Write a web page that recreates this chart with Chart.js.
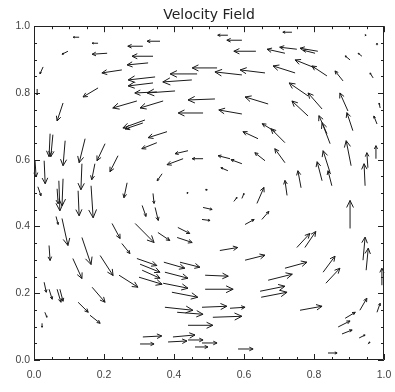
<!DOCTYPE html>
<html>
<head>
<meta charset="utf-8">
<script src="https://cdn.jsdelivr.net/npm/chart.js@4.4.1/dist/chart.umd.min.js"></script>
<style>
  html, body { margin: 0; padding: 0; background: #fff; }
  #wrap { width: 395px; height: 392px; }
</style>
</head>
<body>
<div id="wrap"><canvas id="c" width="395" height="392"></canvas></div>
<script>
// arrow tails (x, y) and components (u, v), data units
const xs = [
  0.129, 0.183, 0.097, 0.209, 0.026, 0.251, 0.183, 0.009, 0.083, 0.294,
  0.317, 0.311, 0.046, 0.054, 0.089, 0.146, 0.203, 0.240, 0.554, 0.594,
  0.634, 0.360, 0.340, 0.311, 0.326, 0.523, 0.466, 0.594, 0.660, 0.451,
  0.346, 0.340, 0.351, 0.403, 0.369, 0.517, 0.669, 0.483, 0.594, 0.380,
  0.351, 0.440, 0.426, 0.483, 0.560, 0.594, 0.554, 0.366, 0.640, 0.660,
  0.737, 0.751, 0.811, 0.803, 0.717, 0.903, 0.937, 0.803, 0.837, 0.746,
  0.883, 0.969, 0.783, 0.823, 0.783, 0.897, 0.911, 0.989, 0.980, 0.689,
  0.717, 0.837, 0.846, 0.717, 0.846, 0.851, 0.823, 0.906, 0.946, 0.954,
  0.977, 0.763, 0.723, 0.637, 0.571, 0.594, 0.903, 0.651, 0.603, 0.483,
  0.480, 0.751, 0.774, 0.940, 0.949, 0.994, 0.826, 0.834, 0.603, 0.717,
  0.669, 0.646, 0.649, 0.760, 0.931, 0.980, 0.889, 0.869, 0.880, 0.929,
  0.840, 0.583, 0.346, 0.411, 0.354, 0.409, 0.531, 0.294, 0.303, 0.309,
  0.300, 0.371, 0.417, 0.374, 0.489, 0.369, 0.489, 0.394, 0.374, 0.409,
  0.480, 0.560, 0.511, 0.440, 0.311, 0.397, 0.383, 0.440, 0.480, 0.460,
  0.303, 0.289, 0.309, 0.223, 0.251, 0.137, 0.189, 0.111, 0.043, 0.080,
  0.063, 0.243, 0.166, 0.126, 0.160, 0.029, 0.043, 0.066, 0.074, 0.031,
  0.023, 0.003, 0.029, 0.011, 0.071, 0.083, 0.066, 0.126, 0.137, 0.163,
  0.174, 0.266, 0.340, 0.489, 0.437, 0.980, 0.946, 0.954
];
const ys = [
  0.967, 0.949, 0.925, 0.919, 0.878, 0.869, 0.815, 0.812, 0.770, 0.776,
  0.719, 0.710, 0.678, 0.675, 0.657, 0.663, 0.648, 0.612, 0.973, 0.958,
  0.925, 0.955, 0.910, 0.940, 0.890, 0.875, 0.857, 0.854, 0.860, 0.839,
  0.848, 0.830, 0.803, 0.806, 0.776, 0.782, 0.767, 0.740, 0.737, 0.684,
  0.651, 0.627, 0.603, 0.603, 0.603, 0.588, 0.567, 0.558, 0.663, 0.597,
  0.982, 0.931, 0.925, 0.919, 0.919, 0.899, 0.910, 0.875, 0.851, 0.860,
  0.836, 0.845, 0.791, 0.752, 0.731, 0.746, 0.687, 0.755, 0.707, 0.684,
  0.651, 0.678, 0.648, 0.591, 0.561, 0.522, 0.537, 0.582, 0.522, 0.576,
  0.603, 0.516, 0.493, 0.469, 0.475, 0.484, 0.394, 0.421, 0.406, 0.457,
  0.421, 0.337, 0.337, 0.299, 0.269, 0.224, 0.263, 0.230, 0.299, 0.275,
  0.239, 0.206, 0.188, 0.149, 0.149, 0.143, 0.125, 0.099, 0.078, 0.066,
  0.021, 0.033, 0.457, 0.397, 0.382, 0.367, 0.328, 0.304, 0.287, 0.269,
  0.248, 0.293, 0.293, 0.263, 0.254, 0.230, 0.212, 0.203, 0.158, 0.143,
  0.158, 0.155, 0.128, 0.104, 0.069, 0.069, 0.054, 0.060, 0.051, 0.039,
  0.048, 0.409, 0.463, 0.409, 0.349, 0.367, 0.313, 0.304, 0.343, 0.424,
  0.430, 0.254, 0.218, 0.173, 0.134, 0.233, 0.212, 0.212, 0.212, 0.143,
  0.110, 0.597, 0.597, 0.519, 0.537, 0.543, 0.513, 0.507, 0.588, 0.522,
  0.588, 0.531, 0.499, 0.510, 0.499, 0.943, 0.973, 0.048
];
const us = [
  -0.017, -0.017, -0.017, -0.043, -0.009, -0.057, -0.043, 0, -0.017, -0.069,
  -0.063, -0.051, -0.003, -0.006, -0.006, -0.017, -0.023, -0.023, -0.029, -0.043,
  -0.063, -0.037, -0.060, -0.043, -0.060, -0.071, -0.077, -0.077, -0.071, -0.083,
  -0.077, -0.071, -0.063, -0.080, -0.066, -0.077, -0.066, -0.071, -0.066, -0.054,
  -0.043, -0.037, -0.046, -0.031, -0.034, -0.031, -0.020, -0.014, -0.043, -0.029,
  -0.026, -0.049, -0.051, -0.034, -0.051, -0.014, -0.011, -0.057, -0.043, -0.063,
  -0.023, -0.009, -0.054, -0.040, -0.046, -0.023, -0.017, -0.003, -0.009, -0.037,
  -0.040, -0.023, -0.023, -0.029, -0.020, -0.011, -0.014, -0.014, -0.003, -0.003,
  0, -0.009, -0.006, 0.020, 0.009, 0.006, 0, 0.020, 0.026, 0.026,
  0.023, 0.037, 0.031, 0.006, 0.006, 0, 0.034, 0.040, 0.057, 0.063,
  0.069, 0.071, 0.074, 0.063, 0.020, 0.009, 0.029, 0.034, 0.029, 0.017,
  0.026, 0.043, 0.009, 0.034, 0.034, 0.043, 0.051, 0.057, 0.057, 0.051,
  0.066, 0.060, 0.057, 0.066, 0.066, 0.071, 0.080, 0.074, 0.080, 0.074,
  0.071, 0.043, 0.083, 0.071, 0.054, 0.063, 0.054, 0.043, 0.043, 0.037,
  0.040, 0.054, 0.011, 0.023, 0.023, 0.026, 0.037, 0.026, 0.003, 0.017,
  0.006, 0.054, 0.037, 0.029, 0.029, 0.006, 0.009, 0.011, 0.009, 0.006,
  0, 0.003, 0.003, 0.009, 0.003, -0.003, 0.003, 0.003, -0.003, 0.006,
  -0.009, -0.009, 0.003, 0.006, 0.003, 0, 0.003, 0.006
];
const vs = [
  0, 0, -0.009, -0.003, -0.021, -0.009, -0.027, -0.018, -0.054, -0.021,
  -0.024, -0.018, -0.069, -0.066, -0.075, -0.072, -0.051, -0.048, 0, 0,
  0, 0, 0, 0, -0.006, 0, 0, 0.009, 0.009, -0.006,
  -0.009, -0.009, -0.003, -0.006, -0.021, -0.003, 0.021, 0, 0.012, -0.018,
  -0.018, -0.009, -0.018, 0, 0.009, 0.012, 0.009, -0.021, 0.021, 0.024,
  0, 0.006, 0.009, 0.009, 0.012, 0.012, 0.009, 0.024, 0.030, 0.021,
  0.030, 0.015, 0.039, 0.048, 0.045, 0.054, 0.054, 0.015, 0.024, 0.024,
  0.042, 0.054, 0.063, 0.042, 0.066, 0.045, 0.057, 0.075, 0.066, 0.045,
  0.039, 0.051, 0.045, 0.048, 0.012, 0.015, 0.084, 0.024, 0.015, -0.006,
  -0.003, 0.042, 0.048, 0.069, 0.066, 0.051, 0.048, 0.045, 0.015, 0.018,
  0.018, 0.015, 0.015, 0.012, 0.036, 0.027, 0.018, 0.018, 0.012, 0.009,
  0, 0, -0.039, -0.018, -0.024, -0.015, 0.009, -0.021, -0.024, -0.024,
  -0.021, -0.018, -0.015, -0.018, -0.003, -0.015, 0, -0.015, -0.009, -0.006,
  0.003, 0.003, 0.003, 0, 0.003, 0.006, 0.003, 0, 0, 0,
  0, -0.057, -0.033, -0.045, -0.030, -0.081, -0.060, -0.060, -0.045, -0.081,
  -0.024, -0.036, -0.045, -0.030, -0.024, -0.030, -0.030, -0.039, -0.036, -0.015,
  -0.012, -0.048, -0.069, -0.027, -0.090, -0.081, -0.045, -0.075, -0.078, -0.096,
  -0.048, -0.045, -0.030, 0, 0.003, 0.006, 0, 0.006
];
const tickLabels = ['0.0', '0.2', '0.4', '0.6', '0.8', '1.0'];

// draws each vector as a shaft with an open head, through the chart scales
const quiver = {
    id: 'quiver',
    afterDatasetsDraw(chart) {
        const ctx = chart.ctx;
        const sx = chart.scales.x, sy = chart.scales.y;
        ctx.save();
        ctx.strokeStyle = '#1a1a1a';
        ctx.lineWidth = 1;
        for (let i = 0; i < xs.length; i++) {
            const x0 = sx.getPixelForValue(xs[i]);
            const y0 = sy.getPixelForValue(ys[i]);
            const x1 = sx.getPixelForValue(xs[i] + us[i]);
            const y1 = sy.getPixelForValue(ys[i] + vs[i]);
            const len = Math.hypot(x1 - x0, y1 - y0);
            const a = Math.atan2(y1 - y0, x1 - x0);
            const h = Math.max(1.5, len * 0.28);
            ctx.beginPath();
            ctx.moveTo(x0, y0);
            ctx.lineTo(x1, y1);
            ctx.moveTo(x1 - h * Math.cos(a - 0.45), y1 - h * Math.sin(a - 0.45));
            ctx.lineTo(x1, y1);
            ctx.lineTo(x1 - h * Math.cos(a + 0.45), y1 - h * Math.sin(a + 0.45));
            ctx.stroke();
        }
        ctx.restore();
    }
};

// box round the plot with inward ticks on all four sides
const frame = {
    id: 'frame',
    afterDraw(chart) {
        const ctx = chart.ctx;
        const {left, right, top, bottom} = chart.chartArea;
        const sx = chart.scales.x, sy = chart.scales.y;
        ctx.save();
        ctx.strokeStyle = '#222';
        ctx.lineWidth = 1;
        ctx.beginPath();
        ctx.rect(Math.round(left) + 0.5, Math.round(top) + 0.5,
                 Math.round(right - left) - 1, Math.round(bottom - top) - 1);
        for (let i = 0; i <= 20; i++) {
            const t = i / 20;
            const len = i % 4 === 0 ? 6 : 3;
            const px = Math.round(sx.getPixelForValue(t)) + 0.5;
            const py = Math.round(sy.getPixelForValue(t)) + 0.5;
            ctx.moveTo(px, bottom); ctx.lineTo(px, bottom - len);
            ctx.moveTo(px, top); ctx.lineTo(px, top + len);
            ctx.moveTo(left, py); ctx.lineTo(left + len, py);
            ctx.moveTo(right, py); ctx.lineTo(right - len, py);
        }
        ctx.stroke();
        ctx.restore();
    }
};

const tickFont = { family: 'Liberation Sans', size: 10.5 };

new Chart(document.getElementById('c'), {
    type: 'scatter',
    data: {
        datasets: [{
            data: xs.map((x, i) => ({ x: x, y: ys[i] })),
            pointRadius: 0,
            showLine: false
        }]
    },
    options: {
        responsive: false,
        animation: false,
        layout: { padding: { left: 0, right: 11, top: 0, bottom: 0 } },
        plugins: {
            legend: { display: false },
            tooltip: { enabled: false },
            title: {
                display: true,
                text: 'Velocity Field',
                fullSize: false,
                color: '#222',
                font: { family: 'DejaVu Sans', size: 14, weight: 'normal' },
                padding: { top: 7, bottom: 2.4 }
            }
        },
        scales: {
            x: {
                type: 'linear', min: 0, max: 1,
                grid: { display: false, drawTicks: false },
                border: { display: false },
                ticks: {
                    stepSize: 0.2, padding: 9, color: '#444', font: tickFont,
                    maxRotation: 0,
                    callback: (v) => tickLabels[Math.round(v / 0.2)]
                },
                afterFit(s) { s.height = 32; s.paddingLeft = 0; s.paddingRight = 0; }
            },
            y: {
                type: 'linear', min: 0, max: 1,
                grid: { display: false, drawTicks: false },
                border: { display: false },
                ticks: {
                    stepSize: 0.2, padding: 4, color: '#444', font: tickFont,
                    callback: (v) => tickLabels[Math.round(v / 0.2)]
                },
                afterFit(s) { s.width = 34; s.paddingTop = 0; s.paddingBottom = 0; }
            }
        }
    },
    plugins: [quiver, frame]
});
</script>
</body>
</html>
